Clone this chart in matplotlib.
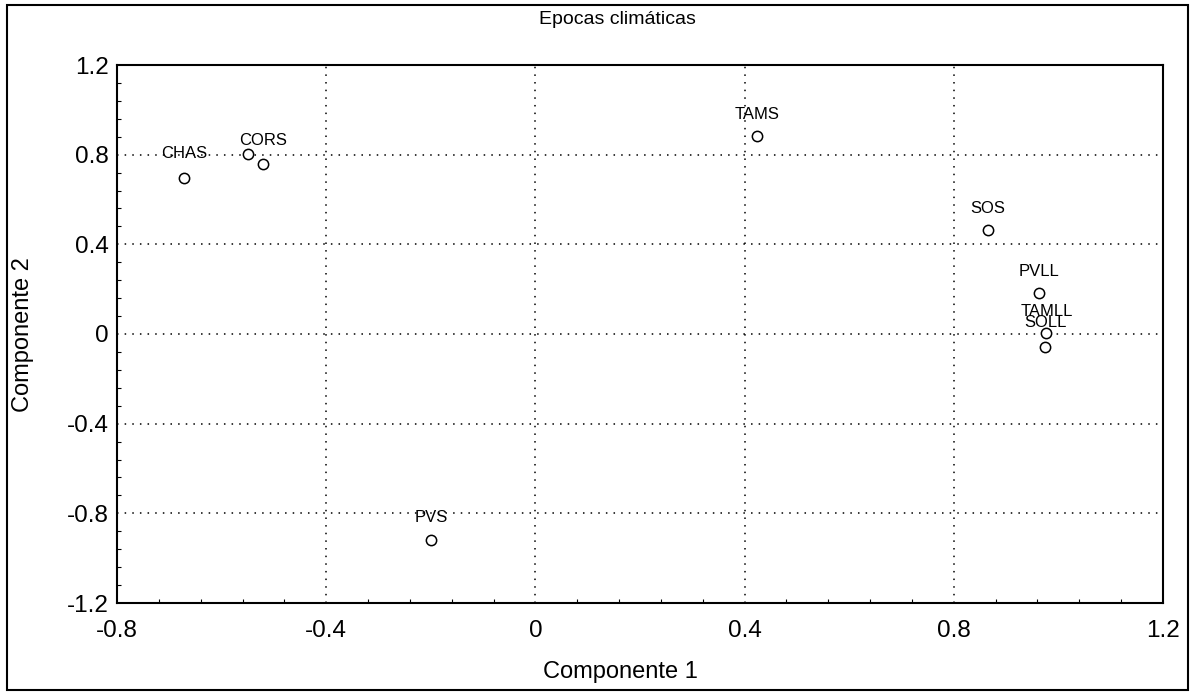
import numpy as np
import matplotlib
matplotlib.use("Agg")
from matplotlib import pyplot as plt
from matplotlib.patches import Rectangle
from matplotlib.ticker import MultipleLocator

plt.rcParams['font.family'] = ['Liberation Sans', 'DejaVu Sans']

# component loadings
names = ["CHAS", "", "CORS", "TAMS", "SOS", "PVLL", "TAMLL", "SOLL", "PVS"]
comp1 = [-0.672, -0.550, -0.521, 0.424, 0.865, 0.962, 0.977, 0.975, -0.200]
comp2 = [0.698, 0.804, 0.760, 0.884, 0.462, 0.182, 0.004, -0.058, -0.920]
label_dy = [0.105, 0.105, 0.105, 0.095, 0.10, 0.095, 0.095, 0.11, 0.10]

fig = plt.figure(figsize=(11.9, 6.94), dpi=100)
ax = fig.add_axes([117/1190, 1-603/694, (1163-117)/1190, (603-65)/694])

ax.scatter(comp1, comp2, s=55, facecolors="white", edgecolors="black",
           linewidths=1.1, zorder=3)
for n, x, y, d in zip(names, comp1, comp2, label_dy):
    if n:
        ax.text(x, y + d, n, ha="center", va="center", fontsize=12, zorder=4)

ax.set_xlim(-0.8, 1.2)
ax.set_ylim(-1.2, 1.2)
ax.xaxis.set_major_locator(MultipleLocator(0.4))
ax.yaxis.set_major_locator(MultipleLocator(0.4))
ax.xaxis.set_minor_locator(MultipleLocator(0.08))
ax.yaxis.set_minor_locator(MultipleLocator(0.08))
ax.xaxis.set_major_formatter(lambda v, p: f"{v:g}")
ax.yaxis.set_major_formatter(lambda v, p: f"{v:g}")
ax.tick_params(which="major", direction="in", length=0, labelsize=17.5, pad=6)
ax.tick_params(axis="x", which="major", pad=12)
ax.tick_params(which="minor", direction="in", length=3, width=0.8)
ax.grid(True, which="major", color="black", linestyle=(0, (1, 4)), linewidth=1.1)
for s in ax.spines.values():
    s.set_linewidth(1.5)

fig.text(617/1190, 1-20/694, "Epocas climáticas", ha="center", va="center", fontsize=14)
fig.text(620/1190, 1-672/694, "Componente 1", ha="center", va="center", fontsize=17)
fig.text(23/1190, 1-335/694, "Componente 2", ha="center", va="center", fontsize=17,
         rotation=90)

fig.patches.append(Rectangle((7/1190, 4/694), 1181/1190, 685/694, transform=fig.transFigure,
                             fill=False, edgecolor="black", linewidth=1.5))

fig.savefig("out.png", dpi=100)
